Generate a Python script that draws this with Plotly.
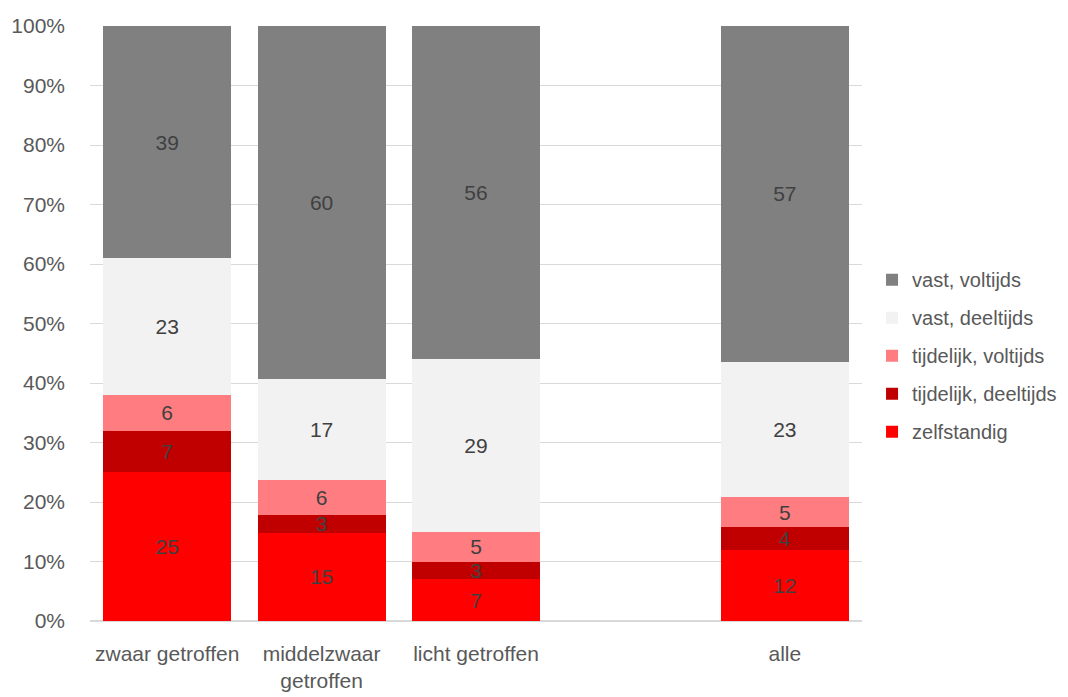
import plotly.graph_objects as go

categories = ['zwaar getroffen', 'middelzwaar<br>getroffen', 'licht getroffen', ' ', 'alle']

# stacked shares per category (blank slot between "licht getroffen" and "alle")
zelfstandig = [25, 15, 7, None, 12]
tijdelijk_deeltijds = [7, 3, 3, None, 4]
tijdelijk_voltijds = [6, 6, 5, None, 5]
vast_deeltijds = [23, 17, 29, None, 23]
vast_voltijds = [39, 60, 56, None, 57]

y_ticks = list(range(0, 101, 10))
y_ticklabels = [f'{t}%' for t in y_ticks]

series = [
    ('zelfstandig', zelfstandig, '#ff0000'),
    ('tijdelijk, deeltijds', tijdelijk_deeltijds, '#c00000'),
    ('tijdelijk, voltijds', tijdelijk_voltijds, '#ff7c80'),
    ('vast, deeltijds', vast_deeltijds, '#f2f2f2'),
    ('vast, voltijds', vast_voltijds, '#808080'),
]

font_family = 'Liberation Sans, Arial, sans-serif'
grey_text = '#595959'
fsize = 21

fig = go.Figure()
for i, (name, vals, color) in enumerate(series):
    fig.add_trace(go.Bar(
        x=categories, y=vals, name=name,
        marker=dict(color=color, line=dict(width=0)),
        text=[('' if v is None else str(v)) for v in vals],
        textposition='inside', insidetextanchor='middle', textangle=0,
        constraintext='none',
        textfont=dict(family=font_family, size=fsize, color='#404040'),
        legendgroup=name,
        legendrank=1000 - i,  # top of the stack first in the legend
        hoverinfo='x+y+name',
    ))

# page body adds an 8px offset, so the figure is a bit smaller than the window
fig.update_layout(
    barmode='stack', barnorm='percent', bargap=0.17,
    width=1060, height=689,
    margin=dict(l=82, r=206, t=18, b=76, autoexpand=False),
    paper_bgcolor='white', plot_bgcolor='white',
    font=dict(family=font_family, size=fsize, color=grey_text),
    uniformtext=dict(minsize=fsize, mode='show'),
    legend=dict(
        traceorder='grouped', tracegroupgap=9,
        x=1.013, xanchor='left', y=0.446, yanchor='middle',
        font=dict(family=font_family, size=20, color=grey_text),
        itemwidth=30,
    ),
)
fig.update_xaxes(
    type='category', categoryorder='array', categoryarray=categories,
    showgrid=False, showline=False, ticks='', tickangle=0, automargin=False,
    ticklabelstandoff=18,
    tickfont=dict(size=fsize, color=grey_text),
)
fig.update_yaxes(
    range=[0, 100], tickmode='array', tickvals=y_ticks, ticktext=y_ticklabels,
    showgrid=True, gridcolor='#d9d9d9', gridwidth=1, automargin=False,
    zeroline=True, zerolinecolor='#d9d9d9', showline=False,
    ticklabelstandoff=24,
    tickfont=dict(size=fsize, color=grey_text),
)

fig.write_html('out.html')
